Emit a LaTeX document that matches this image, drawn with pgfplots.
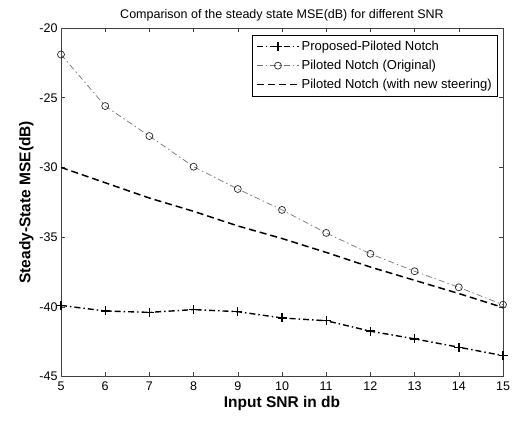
\documentclass[border=0pt]{standalone}
\usepackage{pgfplots}
\pgfplotsset{compat=1.18}
\usepackage{fontspec}
\setmainfont{Liberation Sans}
\begin{document}
\begin{tikzpicture}
\useasboundingbox (-61bp,-45.5bp) rectangle (454bp,376.5bp);
\begin{axis}[
  at={(0,0)}, anchor=south west,
  scale only axis, width=442bp, height=348.5bp,
  xmin=5, xmax=15, ymin=-45, ymax=-20,
  xtick={5,...,15}, ytick={-45,-40,...,-20},
  tick align=inside, major tick length=4bp,
  tick style={black!75, line width=0.5pt},
  axis line style={black!75, line width=0.7pt},
  /pgf/number format/assume math mode=true,
  ticklabel style={font=\fontsize{12.5bp}{14bp}\selectfont},
  xticklabel style={yshift=-2bp},
  title={Comparison of the steady state MSE(dB) for different SNR},
  title style={font=\fontsize{12.5bp}{14bp}\selectfont, yshift=-3bp},
  xlabel={\textbf{Input SNR in db}},
  ylabel={\textbf{Steady-State MSE(dB)}},
  label style={font=\fontsize{15.5bp}{17bp}\selectfont},
  xlabel style={yshift=1bp},
  ylabel style={yshift=-1bp},
  legend style={at={(1,1)}, anchor=north east, xshift=-5bp, yshift=-7bp,
    font=\fontsize{13bp}{15bp}\selectfont, draw=black, line width=0.6pt,
    row sep=4bp, inner sep=4bp},
  legend cell align=left,
  legend image code/.code={\draw[mark repeat=2,mark phase=2]
    plot coordinates {(0bp,0bp) (21bp,0bp) (42bp,0bp)};},
]
\addplot[black, line width=1.4pt, dash pattern=on 6bp off 3bp on 1.5bp off 3bp,
  mark=+, mark size=4.5bp, mark options={solid, line width=1.4pt}]
  coordinates {(5,-39.9) (6,-40.3) (7,-40.4) (8,-40.2) (9,-40.35) (10,-40.8)
   (11,-41.0) (12,-41.75) (13,-42.3) (14,-42.9) (15,-43.5)};
\addlegendentry{Proposed-Piloted Notch}
\addplot[black!55, line width=0.7pt, dash pattern=on 6bp off 3bp on 1.5bp off 3bp,
  mark=o, mark size=3.5bp, mark options={solid, black!85, line width=0.7pt}]
  coordinates {(5,-21.9) (6,-25.6) (7,-27.75) (8,-29.95) (9,-31.55) (10,-33.05)
   (11,-34.7) (12,-36.2) (13,-37.45) (14,-38.6) (15,-39.85)};
\addlegendentry{Piloted Notch (Original)}
\addplot[black, line width=1.5pt, dash pattern=on 7bp off 4bp]
  coordinates {(5,-30.0) (6,-31.1) (7,-32.2) (8,-33.15) (9,-34.2) (10,-35.1)
   (11,-36.1) (12,-37.15) (13,-38.1) (14,-39.05) (15,-40.05)};
\addlegendentry{Piloted Notch (with new steering)}
\end{axis}
\end{tikzpicture}
\end{document}
